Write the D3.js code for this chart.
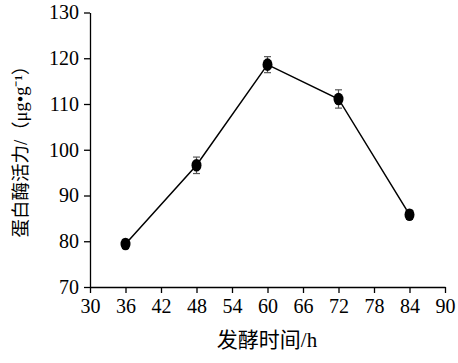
<!DOCTYPE html>
<html><head><meta charset="utf-8">
<script src="https://cdn.jsdelivr.net/npm/d3@7"></script>
<style>body{margin:0;background:#fff}</style>
</head><body>
<svg id="c" width="458" height="363"></svg>
<script>
const hours = [36, 48, 60, 72, 84];
const activity = [79.4, 96.6, 118.6, 111.1, 85.8];
const errors = [1.0, 1.8, 1.75, 2.0, 1.0];
const xTicks = [30, 36, 42, 48, 54, 60, 66, 72, 78, 84, 90];
const yTicks = [70, 80, 90, 100, 110, 120, 130];
const xLabel = "发酵时间/h";
const yLabel = "蛋白酶活力/（μg•g⁻¹）";

const svg = d3.select("#c");
const font = "'Liberation Serif','Noto Sans CJK SC',serif";
const x = d3.scaleLinear().domain([30, 90]).range([90, 445]);
const y = d3.scaleLinear().domain([70, 130]).range([287, 12.5]);

const gx = svg.append("g").attr("transform", "translate(0,287)")
  .call(d3.axisBottom(x).tickValues(xTicks).tickSize(6).tickPadding(6).tickSizeOuter(0));
const gy = svg.append("g").attr("transform", "translate(90,0)")
  .call(d3.axisLeft(y).tickValues(yTicks).tickSize(6).tickPadding(5).tickSizeOuter(0));
[gx, gy].forEach(g => {
  g.selectAll("path,line").attr("stroke", "#000").attr("stroke-width", 1.3);
  g.selectAll("text").attr("font-family", font).attr("font-size", 20).attr("fill", "#000");
});

const line = d3.line().x((d, i) => x(hours[i])).y(d => y(d));
svg.append("path").datum(activity).attr("d", line)
  .attr("fill", "none").attr("stroke", "#000").attr("stroke-width", 1.5);

const eb = svg.append("g").attr("stroke", "#555").attr("stroke-width", 1.2);
activity.forEach((v, i) => {
  const cx = x(hours[i]);
  eb.append("line").attr("x1", cx).attr("x2", cx).attr("y1", y(v - errors[i])).attr("y2", y(v + errors[i]));
  [v - errors[i], v + errors[i]].forEach(e =>
    eb.append("line").attr("x1", cx - 3.5).attr("x2", cx + 3.5).attr("y1", y(e)).attr("y2", y(e)));
});

svg.append("g").selectAll("ellipse").data(activity).join("ellipse")
  .attr("cx", (d, i) => x(hours[i])).attr("cy", d => y(d))
  .attr("rx", 5).attr("ry", 6.3).attr("fill", "#000");

svg.append("text").attr("x", 267).attr("y", 347).attr("text-anchor", "middle")
  .attr("font-family", font).attr("font-size", 21).attr("fill", "#000").text(xLabel);
svg.append("text").attr("transform", "translate(27,147) rotate(-90)").attr("text-anchor", "middle")
  .attr("font-family", font).attr("font-size", 18.5).attr("fill", "#000").text(yLabel);
</script>
</body></html>
